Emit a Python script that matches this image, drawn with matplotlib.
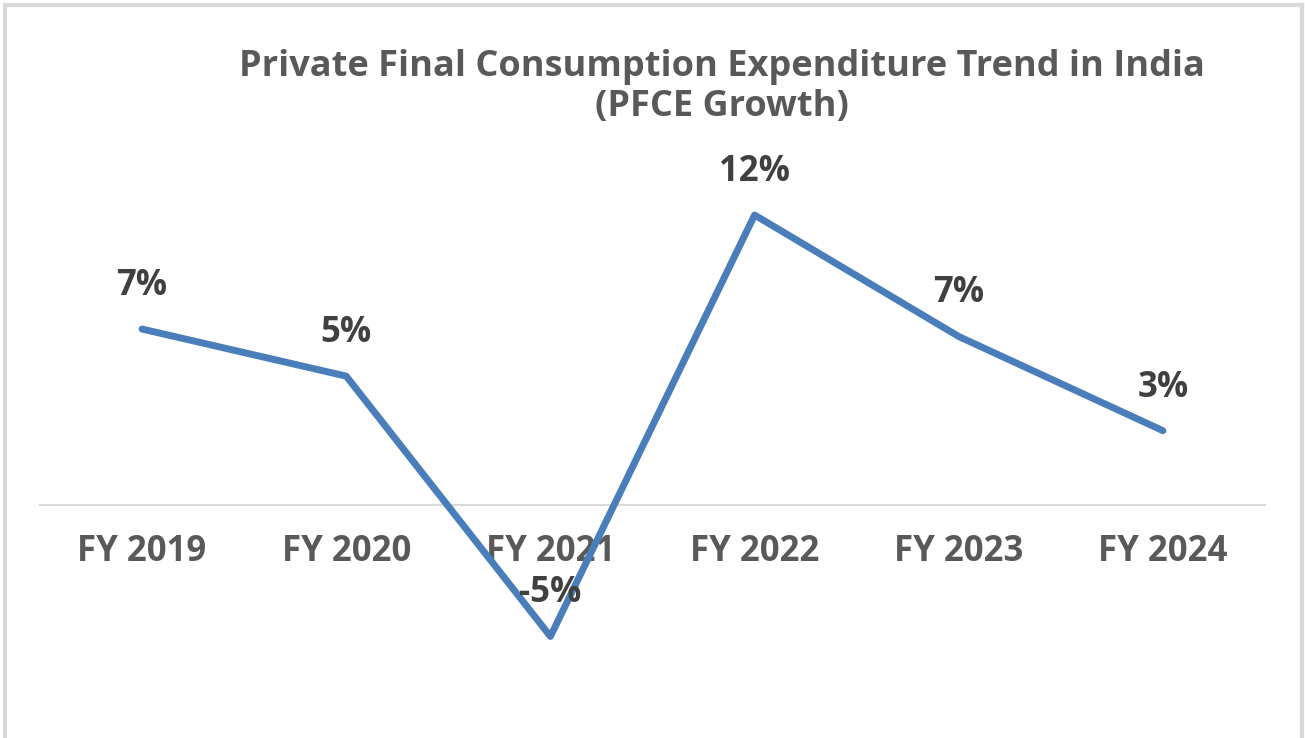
import matplotlib.pyplot as plt
from matplotlib.lines import Line2D

years = ["FY 2019", "FY 2020", "FY 2021", "FY 2022", "FY 2023", "FY 2024"]
pfce_growth = [7.1, 5.2, -5.3, 11.7, 6.8, 3.0]
value_labels = ["7%", "5%", "-5%", "12%", "7%", "3%"]

plt.rcParams["font.family"] = ["Open Sans", "DejaVu Sans"]
plt.rcParams["font.weight"] = "bold"

fig = plt.figure(figsize=(13.05, 7.38), dpi=100)
ax = fig.add_axes([40 / 1305, 0.0805, 1225 / 1305, 0.7054])

# zero line acts as the category axis
for s in ax.spines.values():
    s.set_visible(False)
ax.spines["bottom"].set_visible(True)
ax.spines["bottom"].set_position(("data", 0))
ax.spines["bottom"].set_color("#D9D9D9")
ax.spines["bottom"].set_linewidth(1.5)
ax.spines["bottom"].set_zorder(1)

x = range(len(years))
ax.plot(x, pfce_growth, color="#4A7EBB", linewidth=5, solid_joinstyle="round", solid_capstyle="round", zorder=2)

for xi, yi, lab in zip(x, pfce_growth, value_labels):
    ax.annotate(lab, (xi, yi), xytext=(0, 31), textcoords="offset points",
                ha="center", va="center", fontsize=25, fontweight="bold", color="#404040")

ax.set_xlim(-0.5, 5.5)
ax.set_ylim(-7, 14)

ax.set_xticks(list(x))
ax.set_xticklabels(years, fontsize=25, fontweight="bold", color="#595959")
ax.tick_params(axis="x", length=0, pad=21, labelsize=25, labelcolor="#595959")
ax.set_yticks([])

fig.text(722 / 1305, 1 - 87 / 738, "Private Final Consumption Expenditure Trend in India\n(PFCE Growth)",
         ha="center", va="center", fontsize=26, fontweight="bold", color="#595959", linespacing=1.15)

# light border around the chart area
border = "#D9D9D9"
fig.add_artist(Line2D([5 / 1305, 5 / 1305], [0, 1 - 5 / 738], color=border, linewidth=3))
fig.add_artist(Line2D([5 / 1305, 1302 / 1305], [1 - 5 / 738, 1 - 5 / 738], color=border, linewidth=3))
fig.add_artist(Line2D([1302 / 1305, 1302 / 1305], [0, 1 - 5 / 738], color=border, linewidth=3))

fig.savefig("out.png", dpi=100)
